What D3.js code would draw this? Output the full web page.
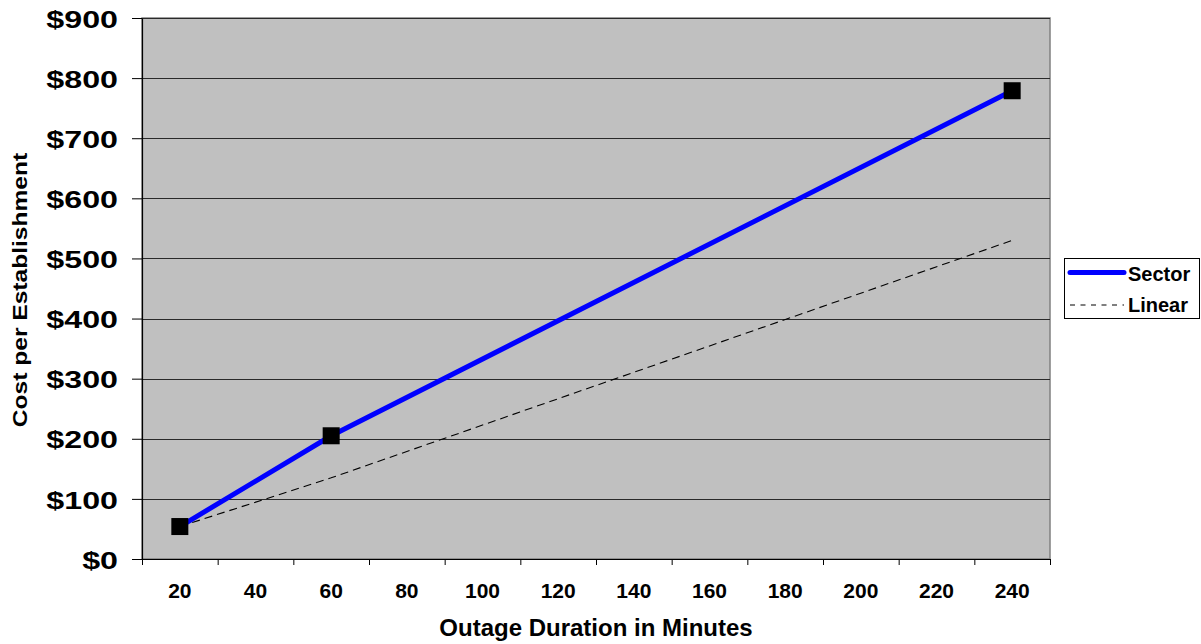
<!DOCTYPE html>
<html>
<head>
<meta charset="utf-8">
<script src="https://cdn.jsdelivr.net/npm/d3@7"></script>
<style>
  html, body { margin: 0; padding: 0; background: #ffffff; }
  svg { display: block; font-family: "Liberation Sans", Arial, sans-serif; font-weight: bold; }
</style>
</head>
<body>
<svg id="chart" width="1201" height="644"></svg>
<script>
// Outage duration (minutes) at which costs were estimated
const durations = [20, 60, 240];
// Cost per establishment, sector estimate
const sectorCost = [54, 205, 779];
// Cost per establishment, linear scaling
const linearCost = [54, 135, 530];
// Axis tick labels
const xTickLabels = [20, 40, 60, 80, 100, 120, 140, 160, 180, 200, 220, 240];
const yTickValues = [0, 100, 200, 300, 400, 500, 600, 700, 800, 900];
const seriesNames = ["Sector", "Linear"];

const svg = d3.select("#chart");
const plot = { left: 142, right: 1050, top: 18, bottom: 559 };

const x = d3.scaleLinear().domain([10, 250]).range([plot.left, plot.right]);
const y = d3.scaleLinear().domain([0, 900]).range([plot.bottom, plot.top]);

// plot background
svg.append("rect")
  .attr("x", plot.left).attr("y", plot.top)
  .attr("width", plot.right - plot.left).attr("height", plot.bottom - plot.top)
  .attr("fill", "#c0c0c0")
  .attr("stroke", "#808080").attr("stroke-width", 1.5);

// horizontal gridlines
svg.append("g").selectAll("line")
  .data(yTickValues.filter(v => v > 0))
  .join("line")
  .attr("x1", plot.left).attr("x2", plot.right)
  .attr("y1", d => Math.round(y(d)) + 0.5).attr("y2", d => Math.round(y(d)) + 0.5)
  .attr("stroke", "#2a2a2a").attr("stroke-width", 1);

// y axis
const yAxis = svg.append("g")
  .attr("transform", `translate(${plot.left},0)`)
  .call(d3.axisLeft(y).tickValues(yTickValues).tickSize(10).tickSizeOuter(0)
    .tickFormat(d => "$" + d));
yAxis.select(".domain").attr("stroke", "#000").attr("stroke-width", 1.2);
yAxis.selectAll(".tick line").attr("stroke", "#000");
yAxis.selectAll(".tick text")
  .attr("x", -24).attr("dy", "0.4em")
  .attr("fill", "#000")
  .style("font-size", "23px").style("font-weight", "bold")
  .style("font-family", "'Liberation Sans', Arial, sans-serif")
  .each(function () {
    const w = this.getComputedTextLength();
    d3.select(this).attr("textLength", w * 1.4).attr("lengthAdjust", "spacingAndGlyphs");
  });

// x axis: tick marks between categories, labels centred on them
const xTickMarks = d3.range(10, 251, 20);
const xAxis = svg.append("g")
  .attr("transform", `translate(0,${plot.bottom})`)
  .call(d3.axisBottom(x).tickValues(xTickMarks).tickSize(6).tickSizeOuter(0).tickFormat(""));
xAxis.select(".domain").attr("stroke", "#000").attr("stroke-width", 1.2);
xAxis.selectAll(".tick line").attr("stroke", "#000");

svg.append("g").selectAll("text")
  .data(xTickLabels)
  .join("text")
  .attr("x", d => x(d)).attr("y", 598)
  .attr("text-anchor", "middle")
  .style("font-size", "21px")
  .text(d => d);

// axis titles
svg.append("text")
  .attr("x", (plot.left + plot.right) / 2).attr("y", 636)
  .attr("text-anchor", "middle")
  .style("font-size", "24px")
  .text("Outage Duration in Minutes");

svg.append("text")
  .attr("transform", "translate(27,290) rotate(-90) scale(1.17,1)")
  .attr("text-anchor", "middle")
  .style("font-size", "21px")
  .text("Cost per Establishment");

// series lines
const line = d3.line().x(d => x(d[0])).y(d => y(d[1]));
const linearPts = durations.map((d, i) => [d, linearCost[i]]);
const sectorPts = durations.map((d, i) => [d, sectorCost[i]]);

svg.append("path")
  .datum(linearPts)
  .attr("d", line)
  .attr("fill", "none").attr("stroke", "#000").attr("stroke-width", 1.1)
  .attr("stroke-dasharray", "8,5");

svg.append("path")
  .datum(sectorPts)
  .attr("d", line)
  .attr("fill", "none").attr("stroke", "#0000ff").attr("stroke-width", 5);

svg.append("g").selectAll("rect")
  .data(sectorPts)
  .join("rect")
  .attr("x", d => x(d[0]) - 8.5).attr("y", d => y(d[1]) - 8.5)
  .attr("width", 17).attr("height", 17)
  .attr("fill", "#000");

// legend
const legend = svg.append("g");
legend.append("rect")
  .attr("x", 1064.5).attr("y", 258.5).attr("width", 135).attr("height", 60)
  .attr("fill", "#fff").attr("stroke", "#000").attr("stroke-width", 1);

const legendRows = [
  { name: seriesNames[0], ly: 272.5, ty: 281, stroke: "#0000ff", width: 5, dash: null },
  { name: seriesNames[1], ly: 305, ty: 312, stroke: "#000", width: 1, dash: "5,5.5" }
];
legendRows.forEach(r => {
  legend.append("line")
    .attr("x1", 1070).attr("x2", 1124).attr("y1", r.ly).attr("y2", r.ly)
    .attr("stroke", r.stroke).attr("stroke-width", r.width)
    .attr("stroke-linecap", r.dash ? "butt" : "round")
    .attr("stroke-dasharray", r.dash);
  legend.append("text")
    .attr("x", 1128).attr("y", r.ty)
    .style("font-size", "20px")
    .text(r.name);
});
</script>
</body>
</html>
